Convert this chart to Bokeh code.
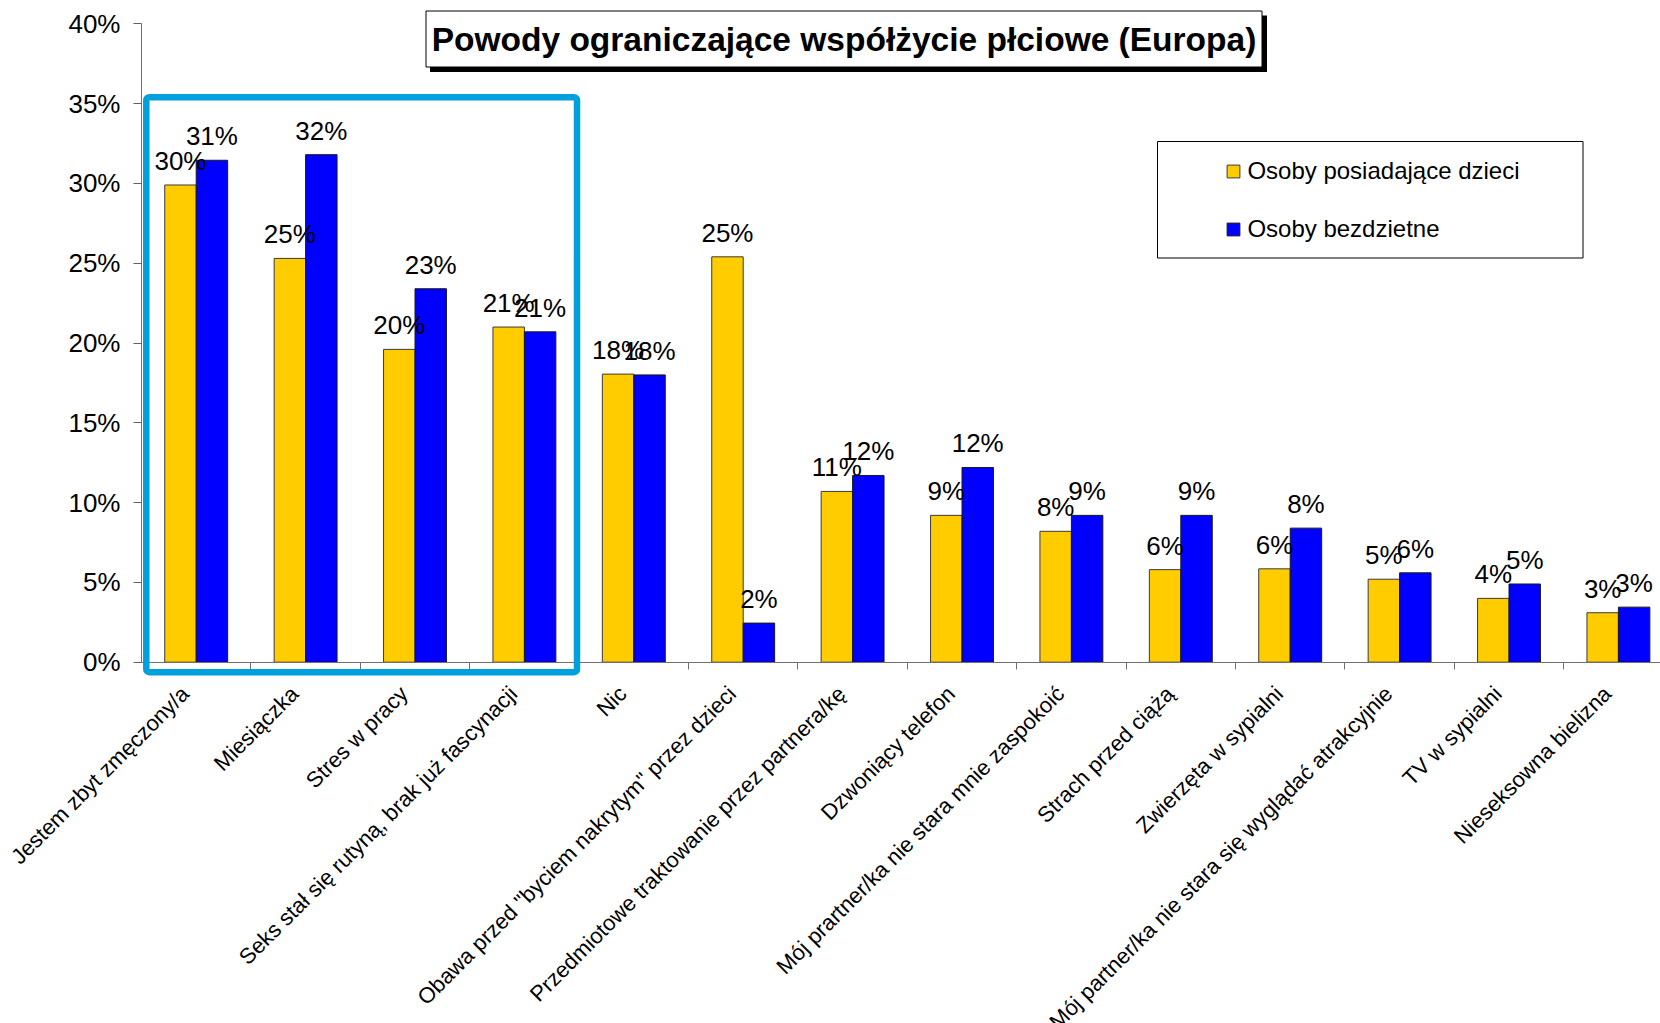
import math
from bokeh.plotting import figure
from bokeh.models import (ColumnDataSource, LabelSet, Label, BoxAnnotation, Legend,
                          LegendItem, FixedTicker, PrintfTickFormatter, Range1d)
from bokeh.core.properties import value
from bokeh.embed import file_html
from bokeh.resources import INLINE

# ---------------- data ----------------
categories = [
    "Jestem zbyt zmęczony/a",
    "Miesiączka",
    "Stres w pracy",
    "Seks stał się rutyną, brak już fascynacji",
    "Nic",
    'Obawa przed "byciem nakrytym" przez dzieci',
    "Przedmiotowe traktowanie przez partnera/kę",
    "Dzwoniący telefon",
    "Mój prartner/ka nie stara mnie zaspokoić",
    "Strach przed ciążą",
    "Zwierzęta w sypialni",
    "Mój partner/ka nie stara się wyglądać atrakcyjnie",
    "TV w sypialni",
    "Nieseksowna bielizna",
]
series_names = ["Osoby posiadające dzieci", "Osoby bezdzietne"]
with_children = [29.9, 25.3, 19.6, 21.0, 18.05, 25.4, 10.7, 9.2, 8.2, 5.8, 5.85, 5.2, 4.0, 3.1]
childless = [31.45, 31.8, 23.4, 20.7, 18.0, 2.45, 11.7, 12.2, 9.2, 9.2, 8.4, 5.6, 4.9, 3.45]
y_ticks = [0, 5, 10, 15, 20, 25, 30, 35, 40]
title_text = "Powody ograniczające współżycie płciowe (Europa)"

# ---------------- layout helpers (page pixels -> data) ----------------
FONT = "Liberation Sans"
W, H = 1660, 1023
CAT_PX = 109.4
AXIS_X = 141.0        # page x of the value axis
ZERO_Y = 661.7        # page y of 0%
TOP_Y = 23.3          # page y of 40%
PX_PER_PCT = (ZERO_Y - TOP_Y) / 40.0


def xd(px):
    return (px - AXIS_X) / CAT_PX


def yd(py):
    return (ZERO_Y - py) / PX_PER_PCT


n = len(categories)
bar_w = 0.2875
centers = [i + 0.5 for i in range(n)]
x_a = [c - bar_w / 2 for c in centers]
x_b = [c + bar_w / 2 for c in centers]

p = figure(width=W, height=H, output_backend="svg", toolbar_location=None,
           x_range=Range1d(xd(0), xd(W)), y_range=Range1d(yd(H), yd(0)),
           min_border_left=0, min_border_top=0,
           min_border_bottom=0, min_border_right=0)
p.outline_line_color = None
p.xgrid.visible = False
p.ygrid.visible = False
p.background_fill_color = "white"
p.border_fill_color = "white"

src_a = ColumnDataSource(dict(x=x_a, top=with_children,
                              lab=[f"{round(v)}%" for v in with_children]))
src_b = ColumnDataSource(dict(x=x_b, top=childless,
                              lab=[f"{round(v)}%" for v in childless]))

r_a = p.vbar(x="x", top="top", bottom=0, width=bar_w, source=src_a,
             fill_color="#FFCC00", line_color="#3a3a3a", line_width=1)
r_b = p.vbar(x="x", top="top", bottom=0, width=bar_w, source=src_b,
             fill_color="#0000FF", line_color="#1a1a1a", line_width=1)

# data labels
for src in (src_a, src_b):
    p.add_layout(LabelSet(x="x", y="top", text="lab", source=src, y_offset=15,
                          text_align="center", text_baseline="alphabetic",
                          text_font=value(FONT), text_font_size="26px",
                          text_color="black"))

# value axis (sits at the first category edge)
p.yaxis.fixed_location = 0
p.yaxis.ticker = FixedTicker(ticks=y_ticks, minor_ticks=[])
p.yaxis.bounds = (0, 40)
p.yaxis.formatter = PrintfTickFormatter(format="%d%%")
p.yaxis.major_tick_out = 8
p.yaxis.major_tick_in = 0
p.yaxis.major_tick_line_color = "#606060"
p.yaxis.axis_line_color = "#707070"
p.yaxis.major_label_standoff = 13
p.yaxis.major_label_text_font = FONT
p.yaxis.major_label_text_font_size = "26px"
p.yaxis.major_label_text_color = "black"

# category axis (sits at 0%)
p.xaxis.fixed_location = 0
p.xaxis.bounds = (0, xd(W))
p.xaxis.ticker = FixedTicker(ticks=[], minor_ticks=list(range(1, n)))
p.xaxis.major_tick_line_color = None
p.xaxis.minor_tick_out = 7
p.xaxis.minor_tick_in = 0
p.xaxis.minor_tick_line_color = "#707070"
p.xaxis.axis_line_color = "#707070"

# rotated category labels
src_c = ColumnDataSource(dict(x=centers, y=[yd(689.5)] * n, text=categories))
p.add_layout(LabelSet(x="x", y="y", text="text", source=src_c, angle=math.pi / 4,
                      x_offset=-11, text_align="right", text_baseline="middle",
                      text_font=value(FONT), text_font_size="22px", text_color="black"))

# highlight frame
p.add_layout(BoxAnnotation(left=xd(145.8), right=xd(576.5), top=yd(96.7), bottom=yd(671.7),
                           fill_color=None, line_color="#00A0DC", line_alpha=1,
                           line_width=6.5, border_radius=3))

# title box with shadow
p.add_layout(BoxAnnotation(left=xd(429.5), right=xd(1266.5), top=yd(15), bottom=yd(71.5),
                           fill_color="black", fill_alpha=1, line_color=None))
p.add_layout(BoxAnnotation(left=xd(425.5), right=xd(1261.5), top=yd(10.5), bottom=yd(66.5),
                           fill_color="white", fill_alpha=1, line_color="black",
                           line_alpha=1, line_width=1))
p.add_layout(Label(x=xd(843.5), y=yd(38.5), text=title_text, text_font=FONT,
                   text_font_style="bold", text_font_size="33.5px", text_align="center",
                   text_baseline="middle", text_color="black"))

# legend
p.add_layout(BoxAnnotation(left=xd(1157), right=xd(1582.5), top=yd(141), bottom=yd(257.5),
                           fill_color="white", fill_alpha=1, line_color="black",
                           line_alpha=1, line_width=1))
legend = Legend(items=[LegendItem(label=series_names[0], renderers=[r_a]),
                       LegendItem(label=series_names[1], renderers=[r_b])],
                location=(1225.4, H - 244),
                border_line_color=None, background_fill_alpha=0, padding=0, margin=0,
                spacing=28, glyph_width=16, glyph_height=16, label_height=30,
                label_standoff=6, label_text_font=FONT, label_text_font_size="24px",
                label_text_color="black")
p.add_layout(legend)

open("out.html", "w").write(file_html(p, INLINE))
